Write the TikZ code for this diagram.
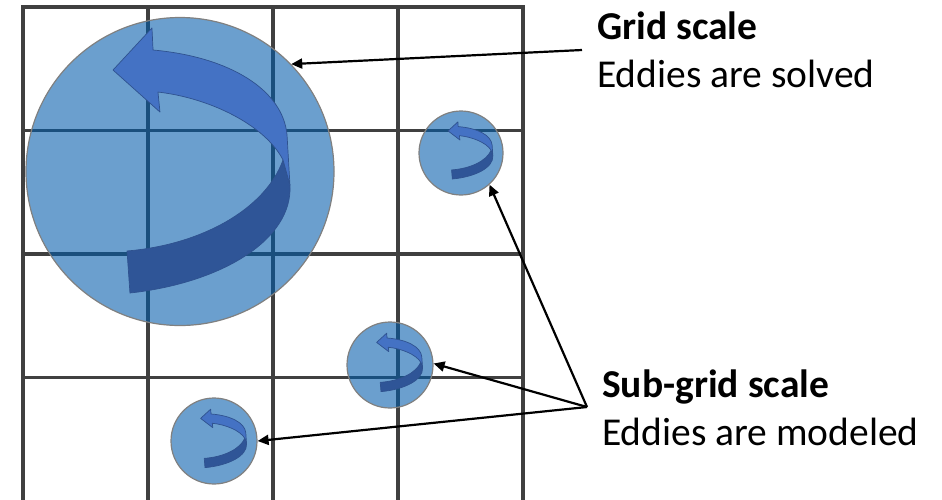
\documentclass[tikz,border=0pt]{standalone}
\usepackage{fontspec}
\setmainfont{Carlito}
\usetikzlibrary{arrows.meta}

\definecolor{gridgray}{RGB}{64,64,64}
\definecolor{eddyfill}{RGB}{0,90,170}
\definecolor{eddyrim}{RGB}{128,128,128}
\definecolor{swirllight}{RGB}{68,114,196}
\definecolor{swirldark}{RGB}{47,85,151}
\definecolor{swirledge}{RGB}{47,82,143}

% one swirl arrow in a unit circle (y grows downward)
\newcommand\swirlshape{%
  \filldraw[fill=swirldark,draw=swirledge,line width=0.7pt,line join=round]
    (0.669,-0.075) .. controls (0.552,0.250) and (0.130,0.477) .. (-0.344,0.516)
    -- (-0.325,0.789) .. controls (0.266,0.724) and (0.734,0.445) .. (0.714,0.088)
    -- cycle;
  \filldraw[fill=swirllight,draw=swirledge,line width=0.7pt,line join=round]
    (-0.175,-0.789) .. controls (0.325,-0.744) and (0.669,-0.529) .. (0.695,-0.237)
    -- (0.714,0.088) -- (0.669,-0.075)
    .. controls (0.552,-0.302) and (0.195,-0.477) .. (-0.143,-0.516)
    -- (-0.130,-0.386) -- (-0.435,-0.659) -- (-0.182,-0.932) -- cycle;
}

\tikzset{
  gridline/.style={draw=gridgray,line width=3.2pt,line cap=rect},
  eddy/.style={circle,inner sep=0pt,minimum size=#1,fill=eddyfill,fill opacity=0.58,
               draw=eddyrim,draw opacity=1,line width=1.2pt},
  pointer/.style={draw=black,line width=2.2pt,-{Triangle[length=11pt,width=10pt]}},
  heading/.style={anchor=base west,inner sep=0pt,font=\fontsize{39.5}{46}\selectfont\bfseries},
  caption/.style={anchor=base west,inner sep=0pt,font=\fontsize{39.5}{46}\selectfont},
}

\begin{document}
\begin{tikzpicture}[x=1pt,y=-1pt]
  \useasboundingbox (0,0) rectangle (942,499);

  % computational grid
  \foreach \gx in {23,148,273,398,523}
    \draw[gridline] (\gx,7) -- (\gx,505);
  \foreach \gy in {7,130.5,254,377.5}
    \draw[gridline] (23,\gy) -- (523,\gy);

  % eddies
  \node[eddy=308pt] (big) at (180,171.5) {};
  \node[eddy=84pt]  (s1)  at (461,153) {};
  \node[eddy=86pt]  (s2)  at (390,365) {};
  \node[eddy=86pt]  (s3)  at (214,441) {};

  % swirl arrows inside the eddies
  \begin{scope}[shift={(180,171.5)},xscale=154,yscale=154]
    \swirlshape
  \end{scope}
  \begin{scope}[shift={(465,152.8)},xscale=39,yscale=33.2]
    \swirlshape
  \end{scope}
  \begin{scope}[shift={(394,364.8)},xscale=40,yscale=34]
    \swirlshape
  \end{scope}
  \begin{scope}[shift={(218,440.8)},xscale=40,yscale=34]
    \swirlshape
  \end{scope}

  % labels
  \node[heading] (gs)  at (597,39)  {Grid scale};
  \node[caption] (gsd) at (597,87)  {Eddies are solved};
  \node[heading] (sg)  at (602,397) {Sub-grid scale};
  \node[caption] (sgd) at (602,445) {Eddies are modeled};

  % pointers
  \coordinate (gfrom) at (582,50);
  \coordinate (sfrom) at (587,407);
  \draw[pointer] (gfrom) -- (big.44);
  \draw[pointer] (sfrom) -- (s1.-48);
  \draw[pointer] (sfrom) -- (s2.2);
  \draw[pointer] (sfrom) -- (s3.0);
\end{tikzpicture}
\end{document}
